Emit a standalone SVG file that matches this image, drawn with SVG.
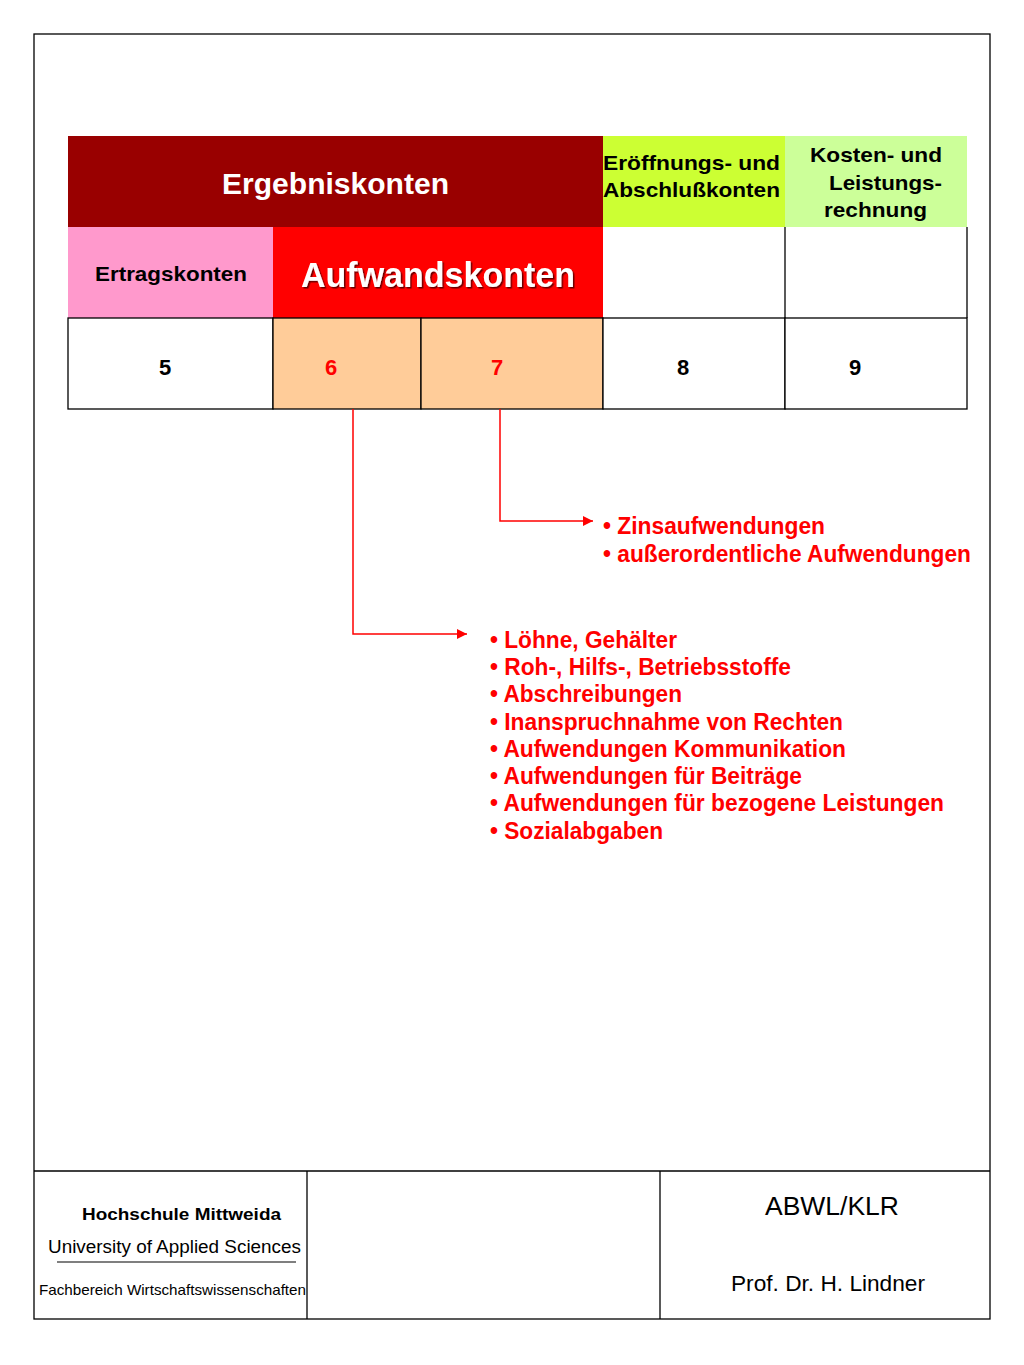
<svg xmlns="http://www.w3.org/2000/svg" width="1024" height="1365" viewBox="0 0 1024 1365">
<defs>
<style>
text{font-family:"Liberation Sans",Arial,sans-serif}
.b{font-weight:bold}
.cell{stroke:#000;stroke-width:1.3}
.lst{font-size:23px;font-weight:bold;fill:#FF0000}
.con{fill:none;stroke:#FF0000;stroke-width:1.5}
.frame{fill:none;stroke:#000;stroke-width:1.3}
.hd{font-size:21px;font-weight:bold;fill:#000}
.num{font-size:22px;font-weight:bold}
</style>
<marker id="ah" viewBox="0 0 10 10" refX="10" refY="5" markerWidth="11" markerHeight="10" markerUnits="userSpaceOnUse" orient="auto">
<path d="M0,0 L10,5 L0,10 z" fill="#FF0000"/>
</marker>
<filter id="sh" x="-5%" y="-20%" width="110%" height="140%">
<feDropShadow dx="1.5" dy="1.5" stdDeviation="0.6" flood-color="#000" flood-opacity="0.6"/>
</filter>
</defs>
<rect width="1024" height="1365" fill="#fff"/>
<g id="frame">
<rect x="34" y="34" width="956" height="1285" class="frame"/>
<line x1="34" y1="1171" x2="990" y2="1171" stroke="#000" stroke-width="1.3"/>
<line x1="307" y1="1171" x2="307" y2="1319" stroke="#000" stroke-width="1.3"/>
<line x1="660" y1="1171" x2="660" y2="1319" stroke="#000" stroke-width="1.3"/>
</g>
<g id="header-ergebnis">
<rect x="68" y="136" width="535" height="91" fill="#990000"/>
<text x="222" y="194" class="b" font-size="29" fill="#fff" textLength="227" lengthAdjust="spacingAndGlyphs">Ergebniskonten</text>
</g>
<g id="header-eroeffnung">
<rect x="603" y="136" width="182" height="91" fill="#CCFF33"/>
<text x="603" y="170" class="hd" textLength="177" lengthAdjust="spacingAndGlyphs">Eröffnungs- und</text>
<text x="603" y="197" class="hd" textLength="177" lengthAdjust="spacingAndGlyphs">Abschlußkonten</text>
</g>
<g id="header-kosten">
<rect x="785" y="136" width="182" height="91" fill="#CCFF99"/>
<text x="810" y="162" class="hd" textLength="132" lengthAdjust="spacingAndGlyphs">Kosten- und</text>
<text x="829" y="190" class="hd" textLength="113" lengthAdjust="spacingAndGlyphs">Leistungs-</text>
<text x="824" y="217" class="hd" textLength="103" lengthAdjust="spacingAndGlyphs">rechnung</text>
</g>
<g id="ertragskonten">
<rect x="68" y="227" width="205" height="91" fill="#FF99CC"/>
<text x="95" y="281" class="hd" textLength="152" lengthAdjust="spacingAndGlyphs">Ertragskonten</text>
</g>
<g id="aufwandskonten">
<rect x="273" y="227" width="330" height="91" fill="#FF0000"/>
<text x="301" y="287" class="b" font-size="35" fill="#fff" filter="url(#sh)" textLength="274" lengthAdjust="spacingAndGlyphs">Aufwandskonten</text>
</g>
<g id="row2-empty">
<rect x="603" y="227" width="182" height="91" fill="#fff"/>
<rect x="785" y="227" width="182" height="91" fill="#fff"/>
<line x1="785" y1="227" x2="785" y2="318" stroke="#000" stroke-width="1.3"/>
<line x1="967" y1="227" x2="967" y2="318" stroke="#000" stroke-width="1.3"/>
</g>
<g id="cell-5">
<rect x="68" y="318" width="205" height="91" fill="#fff" class="cell"/>
<text x="165" y="375" text-anchor="middle" class="num" fill="#000">5</text>
</g>
<g id="cell-6">
<rect x="273" y="318" width="148" height="91" fill="#FFCC99" class="cell"/>
<text x="331" y="375" text-anchor="middle" class="num" fill="#FF0000">6</text>
</g>
<g id="cell-7">
<rect x="421" y="318" width="182" height="91" fill="#FFCC99" class="cell"/>
<text x="497" y="375" text-anchor="middle" class="num" fill="#FF0000">7</text>
</g>
<g id="cell-8">
<rect x="603" y="318" width="182" height="91" fill="#fff" class="cell"/>
<text x="683" y="375" text-anchor="middle" class="num" fill="#000">8</text>
</g>
<g id="cell-9">
<rect x="785" y="318" width="182" height="91" fill="#fff" class="cell"/>
<text x="855" y="375" text-anchor="middle" class="num" fill="#000">9</text>
</g>
<g id="connectors">
<polyline points="500,409 500,521 593,521" class="con" marker-end="url(#ah)"/>
<polyline points="353,409 353,634 467,634" class="con" marker-end="url(#ah)"/>
</g>
<g id="list-7">
<text x="603" y="534" class="lst" textLength="222" lengthAdjust="spacingAndGlyphs">• Zinsaufwendungen</text>
<text x="603" y="562" class="lst" textLength="368" lengthAdjust="spacingAndGlyphs">• außerordentliche Aufwendungen</text>
</g>
<g id="list-6">
<text x="490" y="648" class="lst" textLength="187" lengthAdjust="spacingAndGlyphs">• Löhne, Gehälter</text>
<text x="490" y="675" class="lst" textLength="301" lengthAdjust="spacingAndGlyphs">• Roh-, Hilfs-, Betriebsstoffe</text>
<text x="490" y="702" class="lst" textLength="192" lengthAdjust="spacingAndGlyphs">• Abschreibungen</text>
<text x="490" y="730" class="lst" textLength="353" lengthAdjust="spacingAndGlyphs">• Inanspruchnahme von Rechten</text>
<text x="490" y="757" class="lst" textLength="356" lengthAdjust="spacingAndGlyphs">• Aufwendungen Kommunikation</text>
<text x="490" y="784" class="lst" textLength="312" lengthAdjust="spacingAndGlyphs">• Aufwendungen für Beiträge</text>
<text x="490" y="811" class="lst" textLength="454" lengthAdjust="spacingAndGlyphs">• Aufwendungen für bezogene Leistungen</text>
<text x="490" y="839" class="lst" textLength="173" lengthAdjust="spacingAndGlyphs">• Sozialabgaben</text>
</g>
<g id="footer">
<text x="82" y="1220" class="b" font-size="17" fill="#000" textLength="199" lengthAdjust="spacingAndGlyphs">Hochschule Mittweida</text>
<text x="48" y="1253" font-size="18" fill="#000" textLength="253" lengthAdjust="spacingAndGlyphs">University of Applied Sciences</text>
<line x1="57" y1="1262" x2="296" y2="1262" stroke="#000" stroke-width="1.2"/>
<text x="39" y="1295" font-size="15" fill="#000" textLength="267" lengthAdjust="spacingAndGlyphs">Fachbereich Wirtschaftswissenschaften</text>
<text x="765" y="1215" font-size="26" fill="#000" textLength="134" lengthAdjust="spacingAndGlyphs">ABWL/KLR</text>
<text x="731" y="1291" font-size="22" fill="#000" textLength="194" lengthAdjust="spacingAndGlyphs">Prof. Dr. H. Lindner</text>
</g>
</svg>
